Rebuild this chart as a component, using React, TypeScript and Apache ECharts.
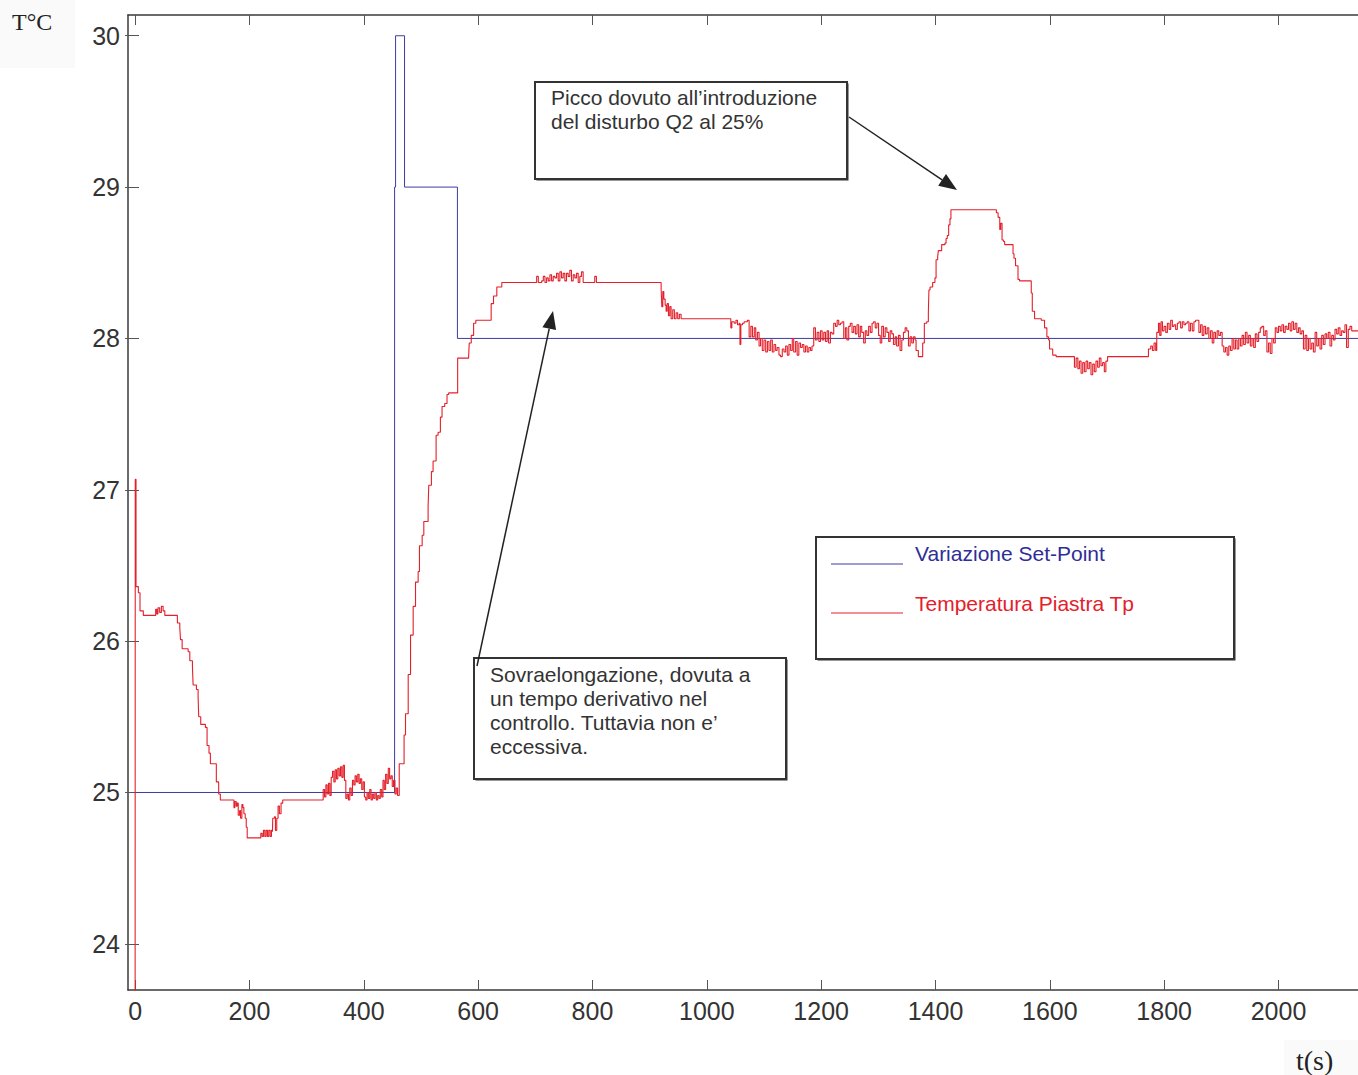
import React, { useEffect, useRef } from "react";
import * as echarts from "echarts";

// ---- tick labels ----
const xTickValues = [0, 200, 400, 600, 800, 1000, 1200, 1400, 1600, 1800, 2000];
const yTickValues = [24, 25, 26, 27, 28, 29, 30];

// ---- set-point (blue) ----
const setPoint: [number, number][] = [
  [0, 25], [453.9, 29], [455.6, 30], [471.3, 29], [563.8, 28], [2139, 28],
];

// ---- plate temperature (red), by phase ----
const tempStart: [number, number][] = [
  [0, 23.0], [0.3, 27.07], [1.6, 26.36], [5.7, 26.32], [8.6, 26.2], [14.4, 26.17],
  [36, 26.21], [38, 26.18], [40, 26.22], [43, 26.19], [46, 26.23], [49, 26.2], [52, 26.17],
  [74, 26.12], [78.2, 26.09], [79.4, 26.01], [82.3, 25.95], [92.8, 25.93], [95.7, 25.87],
  [100.3, 25.83], [101.5, 25.71], [107.3, 25.68], [110.2, 25.63], [111.3, 25.5], [114.8, 25.45],
  [123, 25.43], [125.9, 25.31], [129.3, 25.26], [131.7, 25.19], [142.1, 25.07], [146.2, 24.99],
  [149.1, 24.95], [172.9, 24.9], [174.6, 24.94], [176.9, 24.91], [178.6, 24.93], [180.4, 24.85],
  [182.8, 24.88], [184.5, 24.83], [186.8, 24.92], [188.6, 24.9], [190.3, 24.86], [192.6, 24.83],
  [194.4, 24.77], [196.1, 24.7], [219.9, 24.73], [222.2, 24.71], [224.5, 24.75], [226.9, 24.71],
  [229.2, 24.75], [231.5, 24.71], [233.8, 24.75], [236.2, 24.71], [238.5, 24.75], [240.2, 24.74],
  [240.8, 24.83], [243.7, 24.84], [245.5, 24.75], [247.8, 24.83], [250.1, 24.91], [252.4, 24.86],
  [255.3, 24.93], [258.2, 24.95], [329, 25.02], [331.4, 24.97], [333.7, 25.05], [336, 24.99],
  [338.4, 25.06], [340.7, 24.98], [343, 25.1], [345.3, 25.14], [347.7, 25.07], [350, 25.15],
  [352.3, 25.09], [354.6, 25.16], [357, 25.11], [359.3, 25.17], [361.6, 25.1], [363.9, 25.18],
  [366.2, 25.08], [368.6, 24.96], [370.9, 24.99], [373.2, 24.95], [375.5, 25.03], [377.9, 24.98],
  [380.2, 25.08], [382.5, 25.05], [384.8, 25.11], [387.1, 25.07], [389.5, 25.12], [391.8, 25.06],
  [394.1, 25.09], [396.4, 25.02], [398.8, 25.07], [401.1, 24.97], [403.4, 24.95], [405.7, 25.0],
  [408, 24.96], [410.4, 25.02], [412.7, 24.95], [415, 24.99], [417.3, 24.96], [419.6, 25.0],
  [422, 24.95], [424.3, 24.98], [426.6, 24.96], [428.9, 25.02], [431.3, 24.97], [433.6, 25.08],
  [435.9, 25.02], [438.2, 25.12], [440.5, 25.06], [442.9, 25.16], [445.2, 25.09], [447.5, 25.11],
  [449.8, 25.04], [452.1, 25.08], [454.5, 24.99], [456.8, 25.03], [459.1, 24.98],
];

const tempRise: [number, number][] = [
  [462, 25.19], [470.5, 25.38], [473, 25.52], [477.7, 25.78], [481.8, 26.04], [486.4, 26.23],
  [490.5, 26.39], [495.1, 26.46], [497.4, 26.63], [502.1, 26.7], [505, 26.79], [512.5, 26.89],
  [513.7, 27.03], [518.3, 27.12], [521.2, 27.19], [526.5, 27.36], [530, 27.38], [534, 27.48],
  [536.9, 27.55], [541.6, 27.57], [545.6, 27.63], [548.5, 27.64], [564.2, 27.87], [583.4, 27.88],
  [584.5, 27.97], [588, 28.02], [592.1, 28.1], [596, 28.12], [622.8, 28.23], [626.9, 28.28],
  [632.7, 28.34], [641.4, 28.37],
];

const tempOvershoot: [number, number][] = [
  [702.4, 28.41], [705.3, 28.37], [711.1, 28.38], [714, 28.41], [716.9, 28.37], [719.8, 28.4],
  [722.7, 28.38], [725.6, 28.42], [728.5, 28.38], [731.4, 28.41], [734.3, 28.4], [737.2, 28.43],
  [740.1, 28.38], [743, 28.44], [745.9, 28.4], [748.8, 28.43], [751.7, 28.38], [754.6, 28.43],
  [757.5, 28.41], [760.4, 28.45], [763.3, 28.38], [766.3, 28.42], [769.2, 28.4], [772.1, 28.43],
  [775, 28.37], [777.9, 28.41], [780.8, 28.44], [783.7, 28.37], [804, 28.41], [806.9, 28.37],
  [920.1, 28.33], [921.3, 28.21], [923, 28.31], [924.8, 28.26], [927.1, 28.22], [928.8, 28.18],
  [930.6, 28.23], [932.9, 28.15], [935.2, 28.21], [937.5, 28.13], [940.4, 28.19], [943.3, 28.13],
  [946.3, 28.17], [949.1, 28.13], [952, 28.16], [955, 28.13],
];

const tempSettle: [number, number][] = [
  [1042, 28.07], [1043.8, 28.11], [1048, 28.1], [1051, 28.12], [1053.7, 28.09], [1056.6, 28.1],
  [1058, 27.96], [1059.5, 28.09], [1062.4, 28.1], [1065.3, 28.11], [1071, 28.12], [1074, 28.01],
  [1077, 28.08], [1079.8, 28.01], [1083, 28.07], [1085.6, 27.99], [1088.5, 28.04], [1091.4, 27.95],
  [1094, 28.0], [1097, 27.92], [1100, 27.99], [1103, 27.91], [1106, 27.98], [1108.8, 27.92],
  [1111.7, 27.99], [1114.6, 27.91], [1117.5, 27.96], [1120.4, 27.92], [1123, 27.94], [1126.2, 27.89],
  [1129, 27.88], [1132, 27.93], [1135, 27.91], [1137.9, 27.95], [1140.8, 27.89], [1143.7, 27.96],
  [1146.6, 27.92], [1149.5, 28.0], [1152, 27.91], [1155.3, 27.98], [1158, 27.89], [1161, 27.97],
  [1164, 27.94], [1167, 27.96], [1169.8, 27.91], [1172.7, 27.95], [1175.6, 27.91], [1178.5, 27.94],
  [1181.4, 27.92], [1184, 27.95], [1187, 28.07], [1190, 27.99], [1193, 28.04], [1196, 27.98],
  [1198.8, 28.05], [1201.7, 27.99], [1204.6, 28.04], [1207.5, 27.98], [1210.4, 28.05], [1213, 27.97],
  [1216.2, 28.04], [1219, 28.03], [1222, 28.1], [1225, 28.08], [1228, 28.12], [1230.8, 28.09],
  [1233.7, 28.1], [1236.6, 28.11], [1239.5, 28.0], [1242.4, 28.07], [1245, 27.99], [1248.2, 28.08],
  [1251, 28.1], [1254, 28.04], [1256.9, 28.08], [1259.8, 28.03], [1262.7, 28.09], [1265.6, 28.01],
  [1268.5, 28.08], [1271, 28.04], [1274.3, 27.97], [1277.2, 28.05], [1280, 28.02], [1283, 28.08],
  [1286, 28.04], [1289, 28.1], [1291.7, 28.11], [1294.6, 28.07], [1297.5, 28.1], [1300.4, 28.02],
  [1303.3, 27.97], [1306, 28.08], [1309, 28.01], [1312, 28.07], [1315, 28.04], [1318, 27.98],
  [1320.7, 28.05], [1323.6, 28.03], [1326.5, 27.96], [1329.4, 28.01], [1332, 27.95], [1335.2, 28.02],
  [1338, 27.92], [1341, 27.99], [1344, 28.04], [1346.9, 28.07], [1349.8, 28.05], [1352.7, 27.95],
  [1355.6, 28.01], [1358.5, 27.97], [1361.4, 28.01], [1364.3, 27.99], [1366, 27.92], [1370, 27.88],
  [1377.6, 27.97], [1380.5, 28.1], [1384.6, 28.11], [1387.5, 28.17], [1388.5, 28.32],
];

const tempPeak: [number, number][] = [
  [1390.4, 28.34], [1395, 28.37], [1399, 28.4], [1401, 28.52], [1403.8, 28.54], [1405, 28.58],
  [1410.8, 28.62], [1416.6, 28.63], [1418.5, 28.66], [1420.6, 28.68], [1423, 28.75], [1425.3, 28.79],
  [1427, 28.85], [1506.5, 28.83], [1509.5, 28.8], [1512.4, 28.72], [1514, 28.76], [1516.4, 28.65],
  [1519, 28.64], [1521, 28.62], [1535.6, 28.56], [1537.3, 28.53], [1540, 28.48], [1544.3, 28.39],
  [1547, 28.38], [1567.5, 28.3], [1569.3, 28.18], [1573.3, 28.13], [1585, 28.12], [1590.7, 28.07],
  [1594.8, 28.01], [1597.7, 27.99], [1599.5, 27.93], [1605, 27.89], [1611, 27.88],
  [1643, 27.81], [1646, 27.87], [1649, 27.8], [1651.7, 27.85], [1654.6, 27.77], [1657.5, 27.84],
  [1660.4, 27.78], [1663.3, 27.85], [1666.2, 27.8], [1669, 27.84], [1672, 27.76], [1675, 27.83],
  [1677.8, 27.78], [1680.7, 27.85], [1683.6, 27.81], [1686.5, 27.87], [1689.4, 27.82], [1692.3, 27.84],
  [1695.3, 27.78], [1698, 27.85], [1701, 27.88],
];

const tempEnd: [number, number][] = [
  [1772.5, 27.93], [1776.5, 27.95], [1779.4, 27.92], [1782.3, 27.97], [1785.2, 27.92], [1787, 28.04],
  [1790, 28.1], [1792.2, 28.02], [1794.5, 28.11], [1797, 28.05], [1799.8, 28.08], [1802.7, 28.04],
  [1805.6, 28.1], [1808.5, 28.06], [1811.4, 28.12], [1814.3, 28.08], [1817.2, 28.09], [1820, 28.06],
  [1823, 28.1], [1825.9, 28.11], [1828.8, 28.07], [1831.7, 28.11], [1834.6, 28.09], [1837.5, 28.1],
  [1840.4, 28.11], [1843.3, 28.05], [1846, 28.1], [1849.1, 28.05], [1852, 28.11], [1855, 28.12],
  [1860.7, 28.04], [1863.6, 28.09], [1866.5, 28.02], [1869.4, 28.08], [1872.3, 28.03], [1875.2, 28.07],
  [1878.1, 28.0], [1881, 28.05], [1884, 27.97], [1886.8, 28.04], [1889.7, 28.0], [1892.6, 28.05],
  [1895.5, 28.02], [1898.5, 28.04], [1901.4, 27.95], [1904.3, 27.91], [1907.2, 27.94], [1910.1, 27.89],
  [1913, 27.95], [1915.9, 27.92], [1918.8, 28.0], [1921.7, 27.93], [1924.6, 27.99], [1927.5, 27.93],
  [1930.4, 28.0], [1933.3, 27.95], [1936.2, 28.02], [1939, 27.96], [1942, 28.04], [1944.9, 27.97],
  [1947.8, 28.02], [1950.7, 27.95], [1953.6, 28.0], [1956.5, 27.94], [1959.4, 28.03], [1962.3, 27.98],
  [1965.2, 28.04], [1968.1, 28.07], [1971, 28.08], [1974, 28.02], [1976.8, 28.05], [1979.7, 27.91],
  [1982.6, 27.97], [1985.5, 27.9], [1988.5, 28.0], [1991.4, 27.97], [1994.3, 28.07], [1997.2, 28.04],
  [2000, 28.08], [2003, 28.05], [2005.9, 28.09], [2008.8, 28.04], [2011.7, 28.08], [2014.6, 28.06],
  [2017.5, 28.1], [2020.4, 28.05], [2023.3, 28.11], [2026.2, 28.06], [2029.1, 28.1], [2032, 28.04],
  [2035, 28.07], [2037.8, 28.03], [2040.7, 28.05], [2043.6, 27.93], [2046.5, 28.02], [2049.4, 27.92],
  [2052.3, 28.0], [2055.2, 27.93], [2058.1, 27.97], [2061, 27.91], [2064, 28.04], [2066.8, 27.95],
  [2069.7, 28.0], [2072.6, 27.93], [2075.5, 28.02], [2078.4, 27.96], [2081.3, 28.03], [2084.2, 28.0],
  [2087, 28.04], [2090, 27.95], [2093, 28.02], [2096, 27.99], [2098.8, 28.06], [2101.7, 28.03],
  [2104.5, 28.07], [2107.5, 28.02], [2110.4, 28.05], [2113.3, 28.04], [2116.2, 28.09], [2119, 27.94],
  [2122, 28.06], [2125, 28.08], [2128, 28.05], [2139, 28.05],
];

const temperature = [...tempStart, ...tempRise, ...tempOvershoot, ...tempSettle, ...tempPeak, ...tempEnd];

// ---- texts ----
const seriesNames = ["Variazione Set-Point", "Temperatura Piastra Tp"];
const note1Lines = ["Picco dovuto all\u2019introduzione", "del disturbo Q2 al 25%"];
const note2Lines = ["Sovraelongazione, dovuta a", "un tempo derivativo nel", "controllo. Tuttavia non e\u2019", "eccessiva."];

const SANS = '"Liberation Sans", Arial, Helvetica, sans-serif';
const SERIF = '"Liberation Serif", "Times New Roman", serif';
const BLUE = "#3c3ca4";
const RED = "#e4202a";

function box(x: number, y: number, w: number, h: number) {
  return [
    { type: "rect", z: 100, shape: { x: x + 1.5, y: y + 1.5, width: w, height: h }, style: { fill: "#333" } },
    { type: "rect", z: 101, shape: { x, y, width: w, height: h }, style: { fill: "#fff", stroke: "#333", lineWidth: 2 } },
  ];
}

function lines(texts: string[], x: number, y0: number, dy: number, fill: string) {
  return texts.map((t, i) => ({
    type: "text",
    z: 102,
    style: { text: t, x, y: y0 + i * dy, font: `21px ${SANS}`, fill, verticalAlign: "middle", align: "left" },
  }));
}

function arrow(x1: number, y1: number, x2: number, y2: number) {
  const dx = x2 - x1, dy = y2 - y1;
  const L = Math.hypot(dx, dy);
  const ux = dx / L, uy = dy / L;
  const bx = x2 - 18 * ux, by = y2 - 18 * uy;
  const px = -uy * 7, py = ux * 7;
  return [
    { type: "line", z: 102, shape: { x1, y1, x2: bx, y2: by }, style: { stroke: "#222", lineWidth: 1.5 } },
    {
      type: "polygon", z: 102,
      shape: { points: [[x2, y2], [bx + px, by + py], [bx - px, by - py]] },
      style: { fill: "#222" },
    },
  ];
}

export default function App() {
  const ref = useRef<HTMLDivElement>(null);
  useEffect(() => {
    if (!ref.current) return;
    const chart = echarts.init(ref.current, null, { renderer: "svg" });
    const axisLine = { show: true, onZero: false, lineStyle: { color: "#3a3a3a", width: 1.5 } };
    const tickStyle = { color: "#555", width: 1 };
    const plain = (v: number) => String(v);
    const xBase = { type: "value", min: -12.4, max: 2139, splitLine: { show: false } };
    const yBase = { type: "value", min: 23.695, max: 30.137, splitLine: { show: false } };
    chart.setOption({
      animation: false,
      backgroundColor: "#fff",
      grid: { left: 128, top: 15, right: -5, bottom: 85, containLabel: false },
      xAxis: [
        {
          ...xBase, position: "bottom", axisLine,
          axisTick: { show: true, inside: true, length: 10, customValues: xTickValues, lineStyle: tickStyle },
          axisLabel: { show: true, customValues: xTickValues, formatter: plain, fontSize: 25, fontFamily: SANS, color: "#333", margin: 8 },
        },
        {
          ...xBase, position: "top", axisLine,
          axisTick: { show: true, inside: true, length: 10, customValues: xTickValues, lineStyle: tickStyle },
          axisLabel: { show: false },
        },
      ],
      yAxis: [
        {
          ...yBase, position: "left", axisLine,
          axisTick: { show: true, inside: true, length: 11, customValues: yTickValues, lineStyle: tickStyle },
          axisLabel: { show: true, customValues: yTickValues, formatter: plain, fontSize: 25, fontFamily: SANS, color: "#333", margin: 8 },
        },
        {
          ...yBase, position: "right", axisLine: { show: false },
          axisTick: { show: true, inside: true, length: 10, customValues: yTickValues, lineStyle: tickStyle },
          axisLabel: { show: false },
        },
      ],
      series: [
        {
          name: seriesNames[0], type: "line", data: setPoint, step: "end",
          xAxisIndex: 0, yAxisIndex: 0, symbol: "none", z: 2,
          lineStyle: { color: BLUE, width: 1 },
        },
        {
          name: seriesNames[1], type: "line", data: temperature, step: "end",
          xAxisIndex: 0, yAxisIndex: 0, symbol: "none", z: 3,
          lineStyle: { color: RED, width: 1.1 },
        },
      ],
      graphic: [
        { type: "rect", z: 0, shape: { x: 0, y: 0, width: 75, height: 68 }, style: { fill: "#fafafa" } },
        { type: "text", z: 102, style: { text: "T\u00b0C", x: 12, y: 22, font: `24px ${SERIF}`, fill: "#222", verticalAlign: "middle" } },
        { type: "rect", z: 0, shape: { x: 1284, y: 1040, width: 74, height: 35 }, style: { fill: "#fafafa" } },
        { type: "text", z: 102, style: { text: "t(s)", x: 1296, y: 1060, font: `28px ${SERIF}`, fill: "#222", verticalAlign: "middle" } },
        ...box(535, 82, 312, 97),
        ...lines(note1Lines, 551, 97, 24, "#333"),
        ...arrow(849, 117, 957, 190),
        ...box(474, 658, 312, 121),
        ...lines(note2Lines, 490, 674, 24, "#333"),
        ...arrow(477, 666, 553, 311),
        ...box(816, 537, 418, 122),
        { type: "line", z: 102, shape: { x1: 831, y1: 564, x2: 903, y2: 564 }, style: { stroke: BLUE, lineWidth: 1 } },
        { type: "line", z: 102, shape: { x1: 831, y1: 613, x2: 903, y2: 613 }, style: { stroke: RED, lineWidth: 1 } },
        ...lines([seriesNames[0]], 915, 553, 0, "#2e2e96"),
        ...lines([seriesNames[1]], 915, 603, 0, RED),
      ],
    });
    return () => chart.dispose();
  }, []);
  return (
    <div
      ref={ref}
      style={{ position: "absolute", left: 0, top: 0, width: 1358, height: 1075, background: "#fff" }}
    />
  );
}
